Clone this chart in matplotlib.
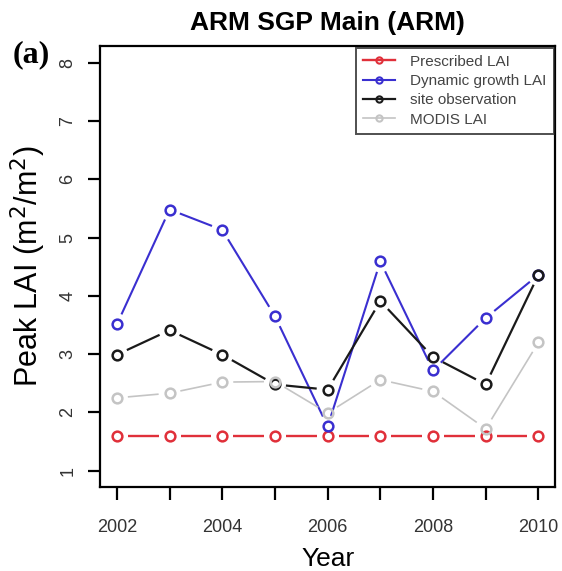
import matplotlib
matplotlib.use('Agg')
import matplotlib.pyplot as plt
import numpy as np

years = [2002, 2003, 2004, 2005, 2006, 2007, 2008, 2009, 2010]
prescribed = [1.6, 1.6, 1.6, 1.6, 1.6, 1.6, 1.6, 1.6, 1.6]
dynamic = [3.51, 5.48, 5.13, 3.65, 1.76, 4.59, 2.72, 3.62, 4.36]
site_obs = [2.99, 3.41, 2.99, 2.48, 2.39, 3.91, 2.95, 2.48, 4.36]
modis = [2.25, 2.33, 2.52, 2.53, 1.99, 2.56, 2.36, 1.72, 3.20]

names = ['Prescribed LAI', 'Dynamic growth LAI', 'site observation', 'MODIS LAI']
colors = ['#e0303a', '#3a2fd0', '#1a1a1a', '#c4c4c4']
widths = [1.7, 1.5, 1.6, 1.2]

plt.rcParams['font.family'] = ['Liberation Sans', 'DejaVu Sans']

fig = plt.figure(figsize=(5.62, 5.71), dpi=100)
ax = fig.add_axes([0.178, 0.147, 0.81, 0.772])
ax.set_xlim(2001.68, 2010.32)
ax.set_ylim(0.72, 8.28)

# R type="b": lines broken around each point
gap = 11.0  # pixels
fig.canvas.draw()
tr = ax.transData
inv = tr.inverted()

for vals, c, lw, name in zip([prescribed, dynamic, site_obs, modis], colors, widths, names):
    pts = tr.transform(np.column_stack([years, vals]))
    for p0, p1 in zip(pts[:-1], pts[1:]):
        d = p1 - p0
        L = np.hypot(*d)
        if L <= 2 * gap:
            continue
        u = d / L
        seg = inv.transform(np.array([p0 + u * gap, p1 - u * gap]))
        ax.plot(seg[:, 0], seg[:, 1], color=c, lw=lw, solid_capstyle='butt')
    ax.plot(years, vals, linestyle='none', marker='o', ms=7, mfc='none',
            mec=c, mew=1.8)
    # legend proxy
    ax.plot([], [], color=c, lw=lw, marker='o', ms=4.5, mfc='none', mec=c,
            mew=1.5, label=name)

ax.set_xticks(years)
ax.set_xticklabels([str(y) if y % 2 == 0 else '' for y in years])
ax.set_yticks([1, 2, 3, 4, 5, 6, 7, 8])
ax.tick_params(axis='both', direction='out', length=9, width=1.6,
               labelsize=13, labelcolor='#333333')
ax.tick_params(axis='x', pad=14)
ax.tick_params(axis='y', pad=8)
for lab in ax.get_yticklabels():
    lab.set_rotation(90)
    lab.set_va('center')
for s in ax.spines.values():
    s.set_linewidth(1.6)

ax.set_xlabel('Year', fontsize=19, va='center')
ax.xaxis.set_label_coords(0.5, -0.163)
ax.set_ylabel('Peak LAI (m$^2$/m$^2$)', fontsize=22, va='center')
ax.yaxis.set_label_coords(-0.158, 0.5)
ax.set_title('ARM SGP Main (ARM)', fontsize=19, fontweight='bold', pad=12)
fig.text(0.022, 0.904, '(a)', fontsize=23, fontweight='bold',
         family='Liberation Serif', va='center')

leg = ax.legend(loc='upper right', fontsize=11, frameon=True, fancybox=False,
                edgecolor='#222222', borderaxespad=0.1, handlelength=2.1,
                labelspacing=0.35, borderpad=0.45, handletextpad=1.0)
leg.get_frame().set_linewidth(1.4)
for t in leg.get_texts():
    t.set_color('#444444')

fig.savefig('out.png', dpi=100)
